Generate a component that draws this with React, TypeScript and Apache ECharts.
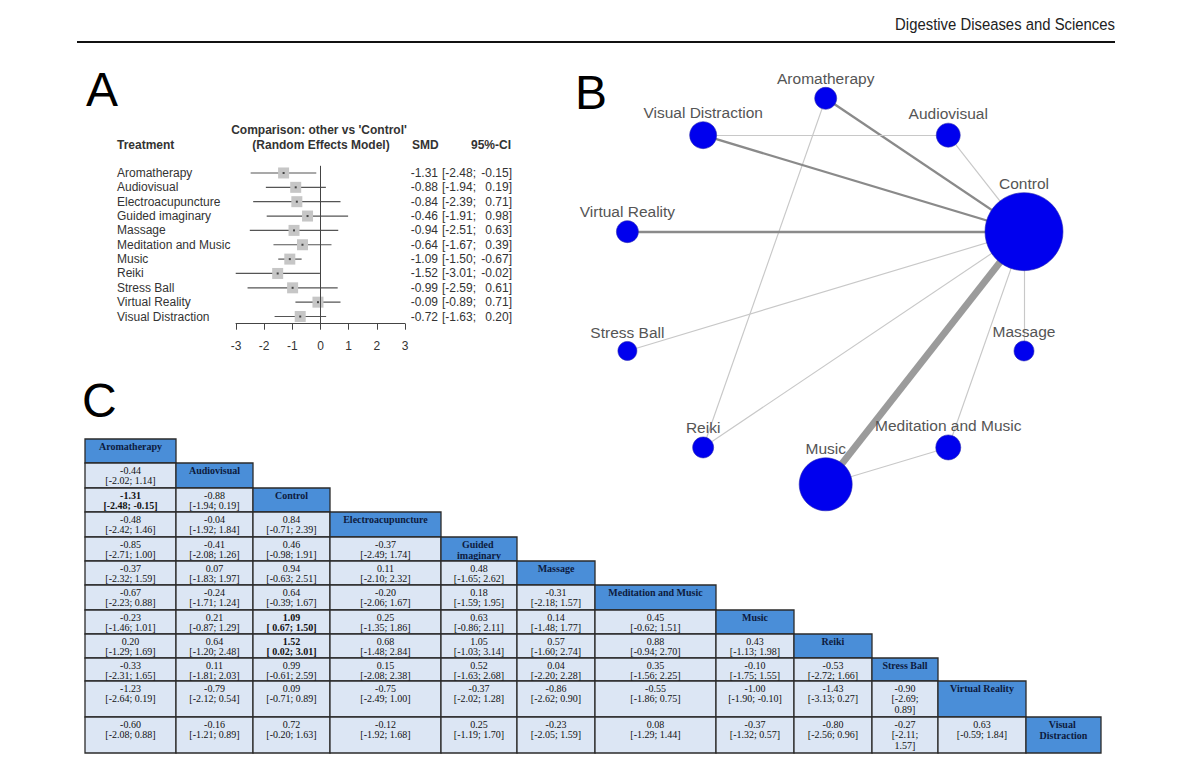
import React, { useEffect, useRef } from "react";
import * as echarts from "echarts";

// ---------- Panel A: forest plot data ----------
const treatments = [
  "Aromatherapy",
  "Audiovisual",
  "Electroacupuncture",
  "Guided imaginary",
  "Massage",
  "Meditation and Music",
  "Music",
  "Reiki",
  "Stress Ball",
  "Virtual Reality",
  "Visual Distraction",
];
const smd = [-1.31, -0.88, -0.84, -0.46, -0.94, -0.64, -1.09, -1.52, -0.99, -0.09, -0.72];
const ciLow = [-2.48, -1.94, -2.39, -1.91, -2.51, -1.67, -1.5, -3.01, -2.59, -0.89, -1.63];
const ciHigh = [-0.15, 0.19, 0.71, 0.98, 0.63, 0.39, -0.67, -0.02, 0.61, 0.71, 0.2];
const forestTicks = [-3, -2, -1, 0, 1, 2, 3];

// ---------- Panel B: network data ----------
// circular layout order (counter-clockwise starting from upper right)
const networkNodes = [
  "Control",
  "Audiovisual",
  "Aromatherapy",
  "Visual Distraction",
  "Virtual Reality",
  "Stress Ball",
  "Reiki",
  "Music",
  "Meditation and Music",
  "Massage",
];
const nodeWeight = [78, 24, 22, 27, 22, 19, 21, 53, 25, 20];
const networkEdges: [string, string, number][] = [
  ["Aromatherapy", "Control", 2],
  ["Aromatherapy", "Reiki", 1],
  ["Visual Distraction", "Audiovisual", 1],
  ["Visual Distraction", "Control", 2],
  ["Audiovisual", "Control", 1],
  ["Virtual Reality", "Control", 2],
  ["Stress Ball", "Control", 1],
  ["Reiki", "Control", 1],
  ["Music", "Control", 6],
  ["Meditation and Music", "Control", 1],
  ["Meditation and Music", "Music", 1],
  ["Massage", "Control", 1],
];

// ---------- Panel C: league table data ----------
const leagueNames = [
  "Aromatherapy",
  "Audiovisual",
  "Control",
  "Electroacupuncture",
  "Guided imaginary",
  "Massage",
  "Meditation and Music",
  "Music",
  "Reiki",
  "Stress Ball",
  "Virtual Reality",
  "Visual Distraction",
];
const leagueEst: number[][] = [
  [],
  [-0.44],
  [-1.31, -0.88],
  [-0.48, -0.04, 0.84],
  [-0.85, -0.41, 0.46, -0.37],
  [-0.37, 0.07, 0.94, 0.11, 0.48],
  [-0.67, -0.24, 0.64, -0.2, 0.18, -0.31],
  [-0.23, 0.21, 1.09, 0.25, 0.63, 0.14, 0.45],
  [0.2, 0.64, 1.52, 0.68, 1.05, 0.57, 0.88, 0.43],
  [-0.33, 0.11, 0.99, 0.15, 0.52, 0.04, 0.35, -0.1, -0.53],
  [-1.23, -0.79, 0.09, -0.75, -0.37, -0.86, -0.55, -1.0, -1.43, -0.9],
  [-0.6, -0.16, 0.72, -0.12, 0.25, -0.23, 0.08, -0.37, -0.8, -0.27, 0.63],
];
const leagueLow: number[][] = [
  [],
  [-2.02],
  [-2.48, -1.94],
  [-2.42, -1.92, -0.71],
  [-2.71, -2.08, -0.98, -2.49],
  [-2.32, -1.83, -0.63, -2.1, -1.65],
  [-2.23, -1.71, -0.39, -2.06, -1.59, -2.18],
  [-1.46, -0.87, 0.67, -1.35, -0.86, -1.48, -0.62],
  [-1.29, -1.2, 0.02, -1.48, -1.03, -1.6, -0.94, -1.13],
  [-2.31, -1.81, -0.61, -2.08, -1.63, -2.2, -1.56, -1.75, -2.72],
  [-2.64, -2.12, -0.71, -2.49, -2.02, -2.62, -1.86, -1.9, -3.13, -2.69],
  [-2.08, -1.21, -0.2, -1.92, -1.19, -2.05, -1.29, -1.32, -2.56, -2.11, -0.59],
];
const leagueHigh: number[][] = [
  [],
  [1.14],
  [-0.15, 0.19],
  [1.46, 1.84, 2.39],
  [1.0, 1.26, 1.91, 1.74],
  [1.59, 1.97, 2.51, 2.32, 2.62],
  [0.88, 1.24, 1.67, 1.67, 1.95, 1.57],
  [1.01, 1.29, 1.5, 1.86, 2.11, 1.77, 1.51],
  [1.69, 2.48, 3.01, 2.84, 3.14, 2.74, 2.7, 1.98],
  [1.65, 2.03, 2.59, 2.38, 2.68, 2.28, 2.25, 1.55, 1.66],
  [0.19, 0.54, 0.89, 1.0, 1.28, 0.9, 0.75, -0.1, 0.27, 0.89],
  [0.88, 0.89, 1.63, 1.68, 1.7, 1.59, 1.44, 0.57, 0.96, 1.57, 1.84],
];
const boldCells: [number, number][] = [
  [2, 0],
  [7, 2],
  [8, 2],
];

// ---------- layout constants (not data) ----------
const colWidths = [91, 77, 77, 111, 76, 78, 121, 78, 78, 66, 88, 75];
const rowHeights = [24, 25, 24, 25, 24, 24, 25, 24, 24, 23, 36, 36];
const narrowCol = 70; // columns narrower than this wrap the CI onto two lines

const SANS = "'Liberation Sans', Arial, Helvetica, sans-serif";
const SERIF = "'Liberation Serif', 'Times New Roman', serif";

const fmt = (v: number) => v.toFixed(2);
const fmtCI = (lo: number, hi: number, wrap: boolean) =>
  `[${lo < 0 ? fmt(lo) : " " + fmt(lo)};${wrap ? "\n" : " "}${fmt(hi)}]`;

function buildOption() {
  const colStart: number[] = [];
  colWidths.reduce((acc, w, i) => {
    colStart[i] = acc;
    return acc + w;
  }, 0);
  const rowStart: number[] = [];
  rowHeights.reduce((acc, h, i) => {
    rowStart[i] = acc;
    return acc + h;
  }, 0);
  const tableW = colWidths.reduce((a, b) => a + b, 0);
  const tableH = rowHeights.reduce((a, b) => a + b, 0);

  type Cell = { r: number; c: number; header: boolean; text: string; bold: boolean };
  const cells: Cell[] = [];
  leagueNames.forEach((name, r) => {
    for (let c = 0; c < r; c++) {
      const bold = boldCells.some(([br, bc]) => br === r && bc === c);
      cells.push({
        r,
        c,
        header: false,
        text:
          fmt(leagueEst[r][c]) +
          "\n" +
          fmtCI(leagueLow[r][c], leagueHigh[r][c], colWidths[c] < narrowCol),
        bold,
      });
    }
    cells.push({ r, c: r, header: true, text: name, bold: true });
  });

  const forestData = treatments.map((_, i) => [smd[i], i, ciLow[i], ciHigh[i]]);

  const nodeData = networkNodes.map((name, k) => {
    const a = ((18 + 36 * k) * Math.PI) / 180;
    return { name, value: [Math.cos(a), Math.sin(a)], symbolSize: nodeWeight[k] };
  });
  const linkData = networkEdges.map(([s, t, n]) => ({
    source: s,
    target: t,
    lineStyle: {
      width: n * 1.15,
      opacity: 1,
      color: n >= 5 ? "#9b9b9b" : n >= 2 ? "#8a8a8a" : "#c8c8c8",
    },
  }));

  return {
    animation: false,
    textStyle: { fontFamily: SANS },
    grid: [
      { left: 236, top: 165.8, width: 169, height: 157.9, containLabel: false, outerBoundsMode: "none" },
      { left: 575.5, top: 59.7, width: 500.4, height: 463.2, containLabel: false, outerBoundsMode: "none" },
      { left: 85, top: 439, width: tableW, height: tableH, containLabel: false, outerBoundsMode: "none" },
    ],
    xAxis: [
      {
        gridIndex: 0,
        type: "value",
        min: forestTicks[0],
        max: forestTicks[forestTicks.length - 1],
        interval: 1,
        axisLine: { show: true, lineStyle: { color: "#444", width: 1 } },
        axisTick: { show: true, length: 6, lineStyle: { color: "#444" } },
        axisLabel: { fontSize: 12, color: "#333", margin: 16, fontFamily: SANS },
        splitLine: { show: false },
      },
      { gridIndex: 1, type: "value", min: -1.2, max: 1.2, show: false },
      { gridIndex: 2, type: "value", min: 0, max: tableW, show: false },
    ],
    yAxis: [
      {
        gridIndex: 0,
        type: "category",
        data: treatments,
        inverse: true,
        axisLine: { show: false },
        axisTick: { show: false },
        axisLabel: { interval: 0, align: "left", margin: 119, fontSize: 12, color: "#333", fontFamily: SANS },
        splitLine: { show: false },
      },
      { gridIndex: 1, type: "value", min: -1.2, max: 1.2, show: false },
      { gridIndex: 2, type: "value", min: 0, max: tableH, inverse: true, show: false },
    ],
    graphic: [
      {
        type: "text",
        x: 1115,
        y: 24.5,
        scaleX: 0.875,
        style: {
          text: "Digestive Diseases and Sciences",
          align: "right",
          verticalAlign: "middle",
          fontSize: 17,
          fill: "#222",
          fontFamily: SANS,
        },
      },
      { type: "line", shape: { x1: 77, y1: 42, x2: 1115, y2: 42 }, style: { stroke: "#111", lineWidth: 2 } },
      { type: "text", x: 86, y: 89, style: { text: "A", fontSize: 48, fill: "#000", verticalAlign: "middle", fontFamily: SANS } },
      { type: "text", x: 575, y: 92, style: { text: "B", fontSize: 48, fill: "#000", verticalAlign: "middle", fontFamily: SANS } },
      { type: "text", x: 82, y: 400.5, style: { text: "C", fontSize: 48, fill: "#000", verticalAlign: "middle", fontFamily: SANS } },
      {
        type: "text",
        x: 319,
        y: 130,
        style: { text: "Comparison: other vs 'Control'", align: "center", verticalAlign: "middle", fontSize: 12, fontWeight: "bold", fill: "#333", fontFamily: SANS },
      },
      {
        type: "text",
        x: 321,
        y: 145,
        style: { text: "(Random Effects Model)", align: "center", verticalAlign: "middle", fontSize: 12, fontWeight: "bold", fill: "#333", fontFamily: SANS },
      },
      {
        type: "text",
        x: 117,
        y: 145,
        style: { text: "Treatment", align: "left", verticalAlign: "middle", fontSize: 12, fontWeight: "bold", fill: "#333", fontFamily: SANS },
      },
      {
        type: "text",
        x: 412,
        y: 145,
        style: { text: "SMD", align: "left", verticalAlign: "middle", fontSize: 12, fontWeight: "bold", fill: "#333", fontFamily: SANS },
      },
      {
        type: "text",
        x: 511,
        y: 145,
        style: { text: "95%-CI", align: "right", verticalAlign: "middle", fontSize: 12, fontWeight: "bold", fill: "#333", fontFamily: SANS },
      },
    ],
    series: [
      // Forest plot
      {
        type: "custom",
        xAxisIndex: 0,
        yAxisIndex: 0,
        encode: { x: 0, y: 1 },
        data: forestData,
        silent: true,
        renderItem: (params: any, api: any) => {
          const est = api.value(0);
          const i = api.value(1);
          const lo = api.value(2);
          const hi = api.value(3);
          const pE = api.coord([est, i]);
          const pL = api.coord([lo, i]);
          const pH = api.coord([hi, i]);
          const pR = api.coord([forestTicks[forestTicks.length - 1], i]);
          const s = 11;
          const txt = { verticalAlign: "middle", fontSize: 12, fill: "#333", fontFamily: SANS };
          return {
            type: "group",
            children: [
              { type: "line", shape: { x1: pL[0], y1: pL[1], x2: pH[0], y2: pH[1] }, style: { stroke: "#555", lineWidth: 1.2 } },
              { type: "rect", shape: { x: pE[0] - s / 2, y: pE[1] - s / 2, width: s, height: s }, style: { fill: "#c6c6c6" } },
              { type: "rect", shape: { x: pE[0] - 1, y: pE[1] - 1, width: 2, height: 2 }, style: { fill: "#444" } },
              { type: "text", x: pR[0] + 33, y: pE[1], style: { ...txt, text: fmt(est), align: "right" } },
              { type: "text", x: pR[0] + 37, y: pE[1], style: { ...txt, text: `[${fmt(lo)};`, align: "left" } },
              { type: "text", x: pR[0] + 107, y: pE[1], style: { ...txt, text: `${fmt(hi)}]`, align: "right" } },
            ],
          };
        },
        markLine: {
          silent: true,
          symbol: "none",
          label: { show: false },
          lineStyle: { color: "#444", type: "solid", width: 1 },
          data: [{ xAxis: 0 }],
        },
        z: 3,
      },
      // Network graph
      {
        type: "graph",
        coordinateSystem: "cartesian2d",
        xAxisIndex: 1,
        yAxisIndex: 1,
        silent: true,
        data: nodeData,
        links: linkData,
        itemStyle: { color: "#0000ee", borderColor: "#2a2ab0", borderWidth: 0.6 },
        lineStyle: { opacity: 1, curveness: 0 },
        label: { show: true, position: "top", distance: 1, fontSize: 15.5, color: "#555", fontFamily: SANS },
        emphasis: { disabled: true },
      },
      // League table
      {
        type: "custom",
        xAxisIndex: 2,
        yAxisIndex: 2,
        encode: { x: 0, y: 1 },
        silent: true,
        data: cells.map((cl) => [colStart[cl.c] + colWidths[cl.c] / 2, rowStart[cl.r] + rowHeights[cl.r] / 2]),
        renderItem: (params: any, api: any) => {
          const cl = cells[params.dataIndex];
          const w = colWidths[cl.c];
          const p0 = api.coord([colStart[cl.c], rowStart[cl.r]]);
          const p1 = api.coord([colStart[cl.c] + w, rowStart[cl.r] + rowHeights[cl.r]]);
          const cx = (p0[0] + p1[0]) / 2;
          const textStyle: any = {
            text: cl.text,
            align: "center",
            verticalAlign: "top",
            fontSize: 10,
            lineHeight: cl.header ? 11.5 : 10.5,
            fontFamily: SERIF,
            fontWeight: cl.bold ? "bold" : "normal",
            fill: cl.header ? "#0d1b3e" : "#111",
          };
          if (cl.header) {
            textStyle.width = w - 12;
            textStyle.overflow = "break";
          }
          return {
            type: "group",
            children: [
              {
                type: "rect",
                shape: { x: p0[0], y: p0[1], width: p1[0] - p0[0], height: p1[1] - p0[1] },
                style: { fill: cl.header ? "#4a8ed8" : "#dce6f4", stroke: "#2b2b2b", lineWidth: 1.3 },
              },
              {
                type: "text",
                x: cx,
                y: p0[1] + (cl.header ? 1.5 : 2),
                style: textStyle,
              },
            ],
          };
        },
      },
    ],
  };
}

export default function App() {
  const ref = useRef<HTMLDivElement>(null);
  useEffect(() => {
    if (!ref.current) return;
    const chart = echarts.init(ref.current, undefined, { renderer: "svg" });
    chart.setOption(buildOption() as any);
    return () => chart.dispose();
  }, []);
  return (
    <div
      ref={ref}
      style={{ position: "absolute", left: 0, top: 0, width: 1200, height: 767, background: "#fff" }}
    />
  );
}
